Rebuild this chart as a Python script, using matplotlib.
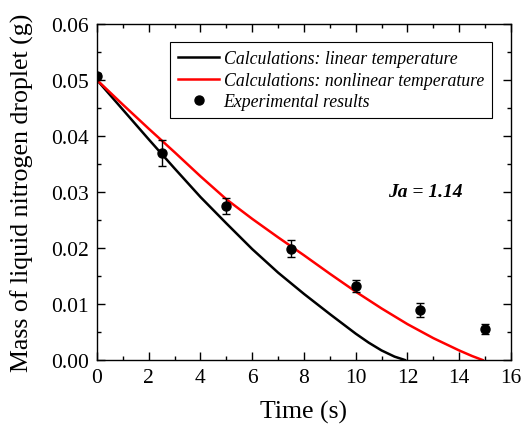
import matplotlib
matplotlib.use("Agg")
import matplotlib.pyplot as plt
from matplotlib.ticker import MultipleLocator
from matplotlib.lines import Line2D

plt.rcParams['font.family'] = ['Liberation Serif', 'DejaVu Serif']

# Calculations: linear temperature
t_lin = [0, 1, 2, 3, 4, 5, 6, 7, 8, 9, 10, 10.5, 11, 11.5, 11.9]
m_lin = [0.0500, 0.0447, 0.0394, 0.0342, 0.0291, 0.0244, 0.0198, 0.0156, 0.0118, 0.0082,
         0.0047, 0.0031, 0.0017, 0.0006, 0.0000]

# Calculations: nonlinear temperature
t_non = [0, 1, 2, 3, 4, 5, 6, 7, 8, 9, 10, 11, 12, 13, 14, 14.5, 14.9]
m_non = [0.0500, 0.0456, 0.0413, 0.0371, 0.0328, 0.0287, 0.0252, 0.0219, 0.0187, 0.0154,
         0.0122, 0.0092, 0.0064, 0.0039, 0.0017, 0.0007, 0.0000]

# Experimental results
t_exp = [0, 2.5, 5, 7.5, 10, 12.5, 15]
m_exp = [0.0508, 0.0370, 0.0275, 0.0199, 0.0132, 0.0089, 0.0056]
m_err = [0.0004, 0.0023, 0.0015, 0.0015, 0.0011, 0.0012, 0.0009]

fig = plt.figure(figsize=(5.27, 4.27), dpi=100)
ax = fig.add_axes([0.184, 0.1546, 0.7856, 0.7869])

l1, = ax.plot(t_lin, m_lin, color='black', lw=1.8)
l2, = ax.plot(t_non, m_non, color='#ff0000', lw=1.8)
ax.errorbar(t_exp, m_exp, yerr=m_err, fmt='o', color='black', ms=6.5, capsize=3,
            elinewidth=1.0, capthick=1.0)
h3 = Line2D([], [], ls='none', marker='o', color='black', ms=6.5)

ax.set_xlim(0, 16)
ax.set_ylim(0, 0.06)
ax.xaxis.set_major_locator(MultipleLocator(2))
ax.xaxis.set_minor_locator(MultipleLocator(1))
ax.yaxis.set_major_locator(MultipleLocator(0.01))
ax.yaxis.set_minor_locator(MultipleLocator(0.005))
ax.yaxis.set_major_formatter(matplotlib.ticker.FormatStrFormatter('%.2f'))
ax.tick_params(which='both', direction='in', top=True, right=True, labelsize=15.5, width=1.0)
ax.tick_params(which='major', length=6, pad=6)
ax.tick_params(which='minor', length=3)
for s in ax.spines.values():
    s.set_linewidth(1.0)

ax.set_xlabel('Time (s)', fontsize=18.5, labelpad=9)
ax.set_ylabel('Mass of liquid nitrogen droplet (g)', fontsize=18.6, labelpad=12)

ax.text(12.7, 0.030, 'Ja = 1.14', fontsize=14, fontweight='bold', fontstyle='italic',
        ha='center', va='center')

leg = ax.legend([l1, l2, h3],
                ['Calculations: linear temperature', 'Calculations: nonlinear temperature',
                 'Experimental results'],
                loc='upper right', bbox_to_anchor=(0.954, 0.946), prop={'style': 'italic', 'size': 12.8},
                frameon=True, fancybox=False, edgecolor='black', framealpha=1,
                handlelength=2.3, borderpad=0.45, labelspacing=0.26, handletextpad=0.25,
                borderaxespad=0)
leg.get_frame().set_linewidth(0.8)

fig.savefig('out.png', dpi=100)
